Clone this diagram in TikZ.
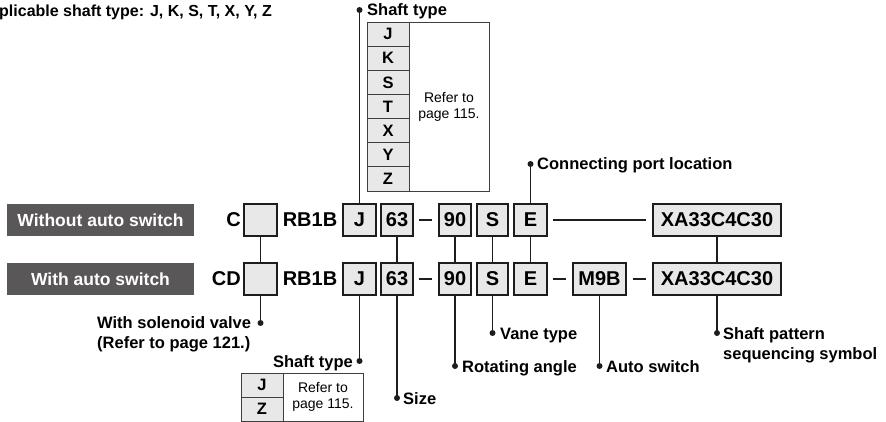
\documentclass[tikz,border=0pt]{standalone}
\usepackage{fontspec}
\setmainfont{Liberation Sans}
\definecolor{boxgray}{RGB}{232,232,232}
\definecolor{labeldark}{RGB}{89,87,87}
\definecolor{ink}{RGB}{30,28,29}
\begin{document}
\begin{tikzpicture}[x=1pt,y=-1pt,
  codebox/.style={draw=ink,line width=1.1pt,fill=boxgray,minimum height=32pt,inner sep=0pt,font=\fontsize{20}{24}\selectfont\bfseries},
  code/.style={inner sep=0pt,font=\fontsize{20}{24}\selectfont\bfseries},
  lbl/.style={inner sep=0pt,font=\fontsize{16.5}{20}\selectfont\bfseries},
  toplbl/.style={inner sep=0pt,font=\fontsize{16}{20}\selectfont\bfseries},
  dotn/.style={circle,fill=ink,inner sep=0pt,minimum size=6pt},
  conn/.style={draw=ink,line width=1.4pt},
  dashline/.style={draw=ink,line width=1.9pt},
  darklbl/.style={fill=labeldark,text=white,minimum width=187pt,minimum height=32pt,inner sep=0pt,font=\fontsize{17.5}{20}\selectfont\bfseries},
  cell/.style={draw=ink!85,line width=0.9pt,fill=boxgray,inner sep=0pt,minimum width=42pt,font=\fontsize{16.5}{20}\selectfont\bfseries},
  refcell/.style={draw=ink!85,line width=0.9pt,inner sep=0pt,minimum width=80pt,align=center,font=\fontsize{14}{16}\selectfont}
]
\useasboundingbox (0,0) rectangle (886,422);

% top title
\node[toplbl,anchor=base west] (title) at (-1,17) {plicable shaft type: J, K, S, T, X, Y, Z};

% row labels
\node[darklbl] (lab1) at (100.5,220) {Without auto switch};
\node[darklbl] (lab2) at (100.5,279) {With auto switch};

% row 1
\node[code,anchor=east] (c1) at (241,220) {C};
\node[codebox,minimum width=33pt] (b1) at (260.5,220) {};
\node[code] (rb1) at (310,220) {RB1B};
\node[codebox,minimum width=33pt] (j1) at (359.5,220) {J};
\node[codebox,minimum width=32pt] (s1) at (397,220) {63};
\node[codebox,minimum width=32pt] (n1) at (455,220) {90};
\node[codebox,minimum width=31pt] (v1) at (492.5,220) {S};
\node[codebox,minimum width=33pt] (e1) at (530.5,220) {E};
\node[codebox,minimum width=128pt] (x1) at (717,220) {XA33C4C30};

% row 2
\node[code,anchor=east] (c2) at (241,279) {CD};
\node[codebox,minimum width=33pt] (b2) at (260.5,279) {};
\node[code] (rb2) at (310,279) {RB1B};
\node[codebox,minimum width=33pt] (j2) at (359.5,279) {J};
\node[codebox,minimum width=32pt] (s2) at (397,279) {63};
\node[codebox,minimum width=32pt] (n2) at (455,279) {90};
\node[codebox,minimum width=31pt] (v2) at (492.5,279) {S};
\node[codebox,minimum width=33pt] (e2) at (530.5,279) {E};
\node[codebox,minimum width=53pt] (m2) at (599.5,279) {M9B};
\node[codebox,minimum width=128pt] (x2) at (717,279) {XA33C4C30};

% dashes
\draw[dashline,shorten <=5pt,shorten >=6pt] (s1.east) -- (n1.west);
\draw[dashline,shorten <=5pt,shorten >=6pt] (e1.east) -- (x1.west);
\draw[dashline,shorten <=5pt,shorten >=6pt] (s2.east) -- (n2.west);
\draw[dashline,shorten <=5pt,shorten >=6pt] (e2.east) -- (m2.west);
\draw[dashline,shorten <=6pt,shorten >=6pt] (m2.east) -- (x2.west);

% vertical connectors between rows
\draw[conn] (b1.south) -- (b2.north);
\draw[conn] (s1.south) -- (s2.north);
\draw[conn] (n1.south) -- (n2.north);
\draw[conn] (v1.south) -- (v2.north);
\draw[conn] (e1.south) -- (e2.north);
\draw[conn] (x1.south) -- (x2.north);

% top shaft type table
\node[cell,minimum height=24.14pt] (tJ) at (388,34.07) {J};
\node[cell,minimum height=24.14pt] (tK) at (388,58.21) {K};
\node[cell,minimum height=24.14pt] (tS) at (388,82.36) {S};
\node[cell,minimum height=24.14pt] (tT) at (388,106.5) {T};
\node[cell,minimum height=24.14pt] (tX) at (388,130.64) {X};
\node[cell,minimum height=24.14pt] (tY) at (388,154.79) {Y};
\node[cell,minimum height=24.14pt] (tZ) at (388,178.93) {Z};
\node[refcell,minimum height=169pt] (tref) at (449,106.5) {Refer to\\page 115.};

% top labels
\node[dotn] (dj1) at (359.5,10) {};
\node[lbl,anchor=base west] (lshaft1) at (367,16) {Shaft type};
\draw[conn] (j1.north) -- (dj1.center);
\node[dotn] (de1) at (530.5,164) {};
\node[lbl,anchor=base west] (lport) at (537,170) {Connecting port location};
\draw[conn] (e1.north) -- (de1.center);

% bottom labels
\node[dotn] (dsol) at (260.5,323) {};
\draw[conn] (b2.south) -- (dsol.center);
\node[lbl,anchor=base west] (lsol1) at (97,328) {With solenoid valve};
\node[lbl,anchor=base west] (lsol2) at (97,348) {(Refer to page 121.)};

\node[dotn] (dj2) at (359.5,361) {};
\draw[conn] (j2.south) -- (dj2.center);
\node[lbl,anchor=base east] (lshaft2) at (353,367) {Shaft type};

\node[dotn] (dsz) at (397,398) {};
\draw[conn] (s2.south) -- (dsz.center);
\node[lbl,anchor=base west] (lsize) at (403,404) {Size};

\node[dotn] (dang) at (455,366) {};
\draw[conn] (n2.south) -- (dang.center);
\node[lbl,anchor=base west] (lang) at (462,372) {Rotating angle};

\node[dotn] (dvane) at (492.5,333) {};
\draw[conn] (v2.south) -- (dvane.center);
\node[lbl,anchor=base west] (lvane) at (500,339) {Vane type};

\node[dotn] (dauto) at (599.5,366) {};
\draw[conn] (m2.south) -- (dauto.center);
\node[lbl,anchor=base west] (lauto) at (606,372) {Auto switch};

\node[dotn] (dpat) at (717,333) {};
\draw[conn] (x2.south) -- (dpat.center);
\node[lbl,anchor=base west] (lpat1) at (723,339) {Shaft pattern};
\node[lbl,anchor=base west] (lpat2) at (723,359) {sequencing symbol};

% bottom shaft type table
\node[cell,minimum height=24pt] (bJ) at (262,385) {J};
\node[cell,minimum height=24pt] (bZ) at (262,409) {Z};
\node[refcell,minimum height=48pt] (bref) at (323,397) {Refer to\\page 115.};
\end{tikzpicture}
\end{document}
